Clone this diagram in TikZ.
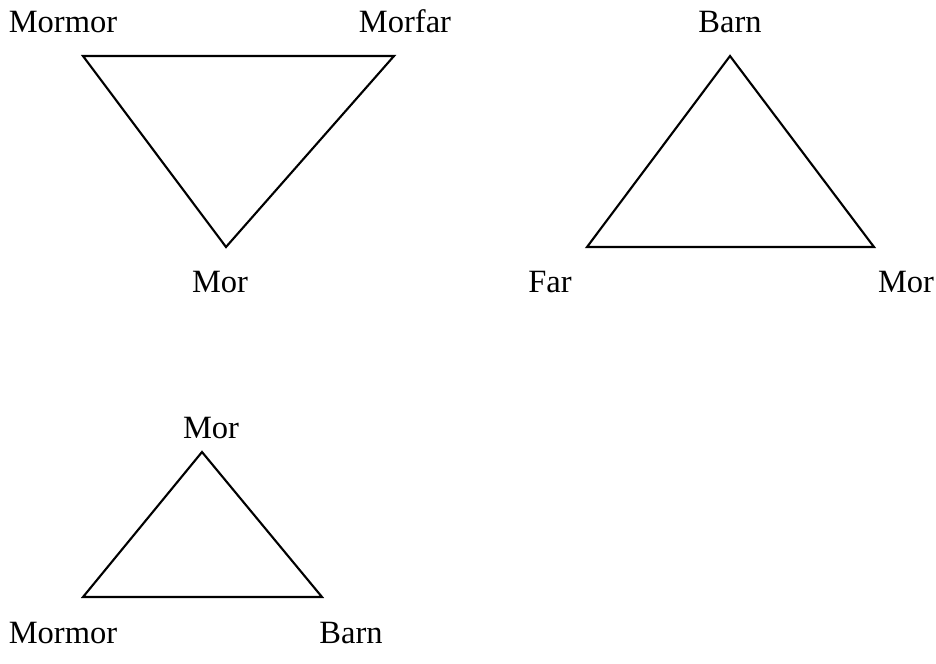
\documentclass[tikz,border=0pt]{standalone}
\usepackage{fontspec}
\setmainfont{Liberation Serif}
\usepackage{tikz}
\usetikzlibrary{positioning}

\begin{document}
\begin{tikzpicture}[x=0.02cm, y=-0.02cm,
    lbl/.style={anchor=base, inner sep=0pt, font=\fontsize{18.5}{21}\selectfont},
    tri/.style={draw=black, line width=1.2pt, line join=miter}]
      \useasboundingbox (0,0) rectangle (936,663);
      % first triangle
      \coordinate (mm1) at (83,56);
      \coordinate (mf1) at (394,56);
      \coordinate (m1) at (226,247);
      \node[lbl] (lmm1) at (63,32) {Mormor};
      \node[lbl] (lmf1) at (405,32) {Morfar};
      \node[lbl] (lm1) at (220,292) {Mor};
      \draw[tri] (mm1) -- (mf1) -- (m1) -- cycle;
      % second triangle
      \coordinate (b2) at (730,56);
      \coordinate (f2) at (587,247);
      \coordinate (m2) at (874,247);
      \node[lbl] (lb2) at (730,32) {Barn};
      \node[lbl] (lf2) at (550,292) {Far};
      \node[lbl] (lm2) at (906,292) {Mor};
      \draw[tri] (b2) -- (f2) -- (m2) -- cycle;
      % third triangle
      \coordinate (m3) at (202,452);
      \coordinate (mm3) at (83,597);
      \coordinate (b3) at (322,597);
      \node[lbl] (lm3) at (211,438) {Mor};
      \node[lbl] (lmm3) at (63,643) {Mormor};
      \node[lbl] (lb3) at (351,643) {Barn};
      \draw[tri] (m3) -- (mm3) -- (b3) -- cycle;
    \end{tikzpicture}
\end{document}
